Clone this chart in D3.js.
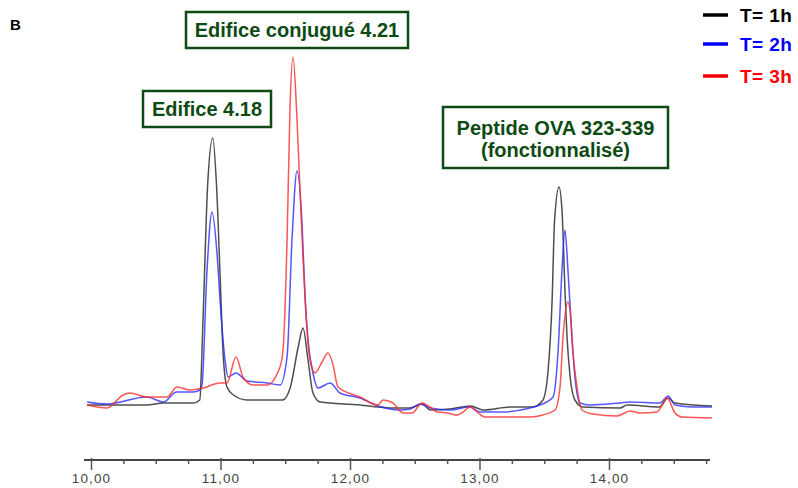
<!DOCTYPE html>
<html><head><meta charset="utf-8">
<script src="https://cdn.jsdelivr.net/npm/d3@7/dist/d3.min.js"></script>
<style>body{margin:0;background:#fff}svg{display:block}</style>
</head><body>
<script>
// Retention time (min) and detector signal (arbitrary units)
const t1h_time = [9.97,10.17,10.43,10.56,10.79,10.84,10.865,10.90,10.94,10.97,11.00,11.02,11.05,11.10,11.205,11.38,11.48,11.54,11.60,11.637,11.676,11.714,11.77,12.08,12.22,12.31,12.46,12.56,12.62,12.77,12.93,13.03,13.24,13.41,13.49,13.53,13.56,13.58,13.614,13.637,13.66,13.676,13.70,13.737,13.80,14.085,14.14,14.39,14.456,14.51,14.795];
const t1h_signal = [15,15,15,17,17,20,100,233,282,233,133,67,33,25,20,20,20,33,73,92,60,27,18,15,13,12,12,16,10,11,14,10,13,13,20,50,117,200,233,210,130,83,43,20,13,12,15,13,22,17,14];

const t2h_time = [9.97,10.12,10.43,10.56,10.66,10.79,10.84,10.857,10.896,10.934,10.973,11.00,11.035,11.058,11.12,11.205,11.36,11.46,11.514,11.552,11.591,11.629,11.653,11.676,11.714,11.753,11.846,11.923,12.077,12.216,12.386,12.463,12.541,12.618,12.772,12.927,13.004,13.18,13.39,13.467,13.568,13.606,13.637,13.66,13.683,13.714,13.737,13.776,13.853,14.085,14.162,14.394,14.456,14.51,14.649,14.795];
const t2h_signal = [18,16,23,18,28,28,30,35,150,208,167,113,60,43,47,39,37,35,63,180,249,198,123,80,47,32,37,27,22,14,10,11,16,12,10,13,8,8,12,15,23,67,150,190,150,83,43,17,15,17,18,17,24,15,13,13];

const t3h_time = [9.97,10.124,10.247,10.301,10.432,10.587,10.664,10.764,10.865,10.996,11.05,11.12,11.174,11.251,11.359,11.459,11.483,11.514,11.537,11.56,11.591,11.614,11.637,11.668,11.691,11.73,11.784,11.83,11.869,11.907,12.077,12.216,12.255,12.332,12.409,12.479,12.556,12.618,12.672,12.749,12.826,12.873,12.927,12.981,13.042,13.39,13.49,13.583,13.622,13.645,13.683,13.699,13.722,13.753,13.791,13.876,14.062,14.162,14.239,14.371,14.448,14.51,14.564,14.795];
const t3h_signal = [15,12,25,27,23,23,33,30,32,37,37,63,43,35,35,53,70,180,313,363,300,230,163,90,60,47,58,67,55,33,23,15,20,17,7,7,17,13,8,7,5,8,13,8,3,3,5,10,33,83,118,110,67,33,10,6,4,9,7,8,22,7,3,2];

const seriesNames = ["T= 1h","T= 2h","T= 3h"];
const seriesColors = ["#000000","#0000ff","#ff0000"];
const lineColors = ["#222222","#2a2aff","#ff2a2a"];

const majorTicks = [10,11,12,13,14];
const minorTicks = [10.25,10.5,10.75,11.25,11.5,11.75,12.25,12.5,12.75,13.25,13.5,13.75,14.25,14.5,14.75];

const peakLabels = [
  {lines:["Edifice conjugué 4.21"], x0:186, y0:12, w:222, h:36},
  {lines:["Edifice 4.18"], x0:143, y0:91, w:128, h:36},
  {lines:["Peptide OVA 323-339","(fonctionnalisé)"], x0:443, y0:107, w:225, h:61}
];

const W = 798, H = 488;
const svg = d3.select("body").append("svg").attr("width", W).attr("height", H);

const x = d3.scaleLinear().domain([10, 14.78]).range([91, 710]);
const y = d3.scaleLinear().domain([0, 400]).range([420, 20]);

// axis
const loc = d3.formatLocale({decimal: ",", thousands: ".", grouping: [3], currency: ["", ""]});
const fmt = loc.format(".2f");
const axisY = 460;
const gAx = svg.append("g").attr("transform", `translate(0,${axisY})`);
gAx.append("line").attr("x1", 84).attr("x2", x(14.78)).attr("y1", 0).attr("y2", 0)
  .attr("stroke", "#444").attr("stroke-width", 2);
const minorAxis = d3.axisBottom(x).tickValues(minorTicks).tickSize(4).tickFormat("");
const gMin = gAx.append("g").call(minorAxis);
gMin.select(".domain").remove();
gMin.selectAll(".tick line").attr("stroke", "#555").attr("stroke-width", 1.5).attr("y1", -1);
const majorAxis = d3.axisBottom(x).tickValues(majorTicks).tickSize(10).tickPadding(3).tickFormat(fmt);
const gMaj = gAx.append("g").call(majorAxis);
gMaj.select(".domain").remove();
gMaj.selectAll(".tick line").attr("stroke", "#555").attr("stroke-width", 1.5).attr("y1", -2);
gMaj.selectAll(".tick text").attr("font-family", "Liberation Sans, Arial, sans-serif")
  .attr("font-size", 13.5).attr("fill", "#444").attr("letter-spacing", "1.1px");

// traces
const data = [
  t1h_time.map((t,i)=>[t, t1h_signal[i]]),
  t2h_time.map((t,i)=>[t, t2h_signal[i]]),
  t3h_time.map((t,i)=>[t, t3h_signal[i]])
];
const line = d3.line().x(d=>x(d[0])).y(d=>y(d[1])).curve(d3.curveMonotoneX);
[0,1,2].forEach(i=>{
  svg.append("path").datum(data[i]).attr("d", line)
    .attr("fill","none").attr("stroke", lineColors[i]).attr("stroke-width", 1.5)
    .attr("stroke-opacity", 0.8).attr("stroke-linejoin","round");
});

// label boxes
peakLabels.forEach(l=>{
  svg.append("rect").attr("x", l.x0).attr("y", l.y0).attr("width", l.w).attr("height", l.h)
    .attr("fill", "#fff").attr("stroke", "#0d4a14").attr("stroke-width", 2.5);
  const cx = l.x0 + l.w/2;
  const n = l.lines.length;
  l.lines.forEach((s,k)=>{
    const base = n === 1 ? l.y0 + l.h/2 + 7 : l.y0 + 28 + k*22;
    svg.append("text").attr("x", cx).attr("y", base).attr("text-anchor","middle")
      .attr("font-family","Liberation Sans, Arial, sans-serif").attr("font-weight","bold")
      .attr("font-size", 20).attr("fill", "#0d4a14").text(s);
  });
});

// panel letter
svg.append("text").attr("x", 10).attr("y", 30).attr("font-family","Liberation Sans, Arial, sans-serif")
  .attr("font-weight","bold").attr("font-size", 15).attr("fill","#000").text("B");

// legend
const legY = [15, 44, 76];
seriesNames.forEach((s,i)=>{
  svg.append("line").attr("x1",703).attr("x2",728).attr("y1",legY[i]).attr("y2",legY[i])
    .attr("stroke", seriesColors[i]).attr("stroke-width", 3.5);
  svg.append("text").attr("x", 740).attr("y", legY[i]+7).attr("font-family","Liberation Sans, Arial, sans-serif")
    .attr("font-weight","bold").attr("font-size", 19).attr("letter-spacing","0.4px")
    .attr("fill", seriesColors[i]).text(s);
});
</script>
</body></html>
